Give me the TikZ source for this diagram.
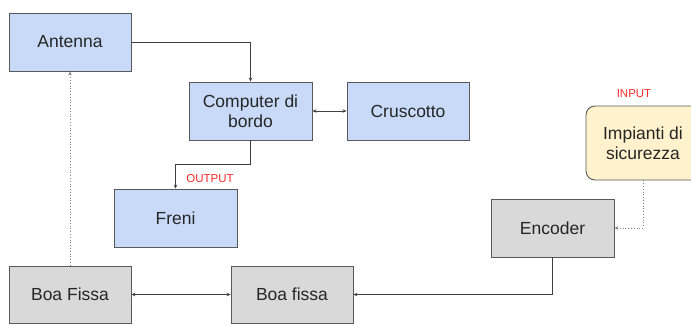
\documentclass[tikz,border=0pt]{standalone}
\usepackage{fontspec}
\setmainfont{Liberation Sans}
\usetikzlibrary{arrows.meta}
\definecolor{boxblue}{HTML}{C9DAF8}
\definecolor{boxgray}{HTML}{D9D9D9}
\definecolor{boxyellow}{HTML}{FFF2CC}
\definecolor{edgegray}{HTML}{595959}
\definecolor{wiregray}{HTML}{404040}
\definecolor{tagred}{HTML}{FF2A2A}
\tikzset{
  block/.style={draw=edgegray, line width=0.9pt, minimum width=122pt, minimum height=58pt,
    inner sep=2pt, align=center, font=\fontsize{17.5}{20}\selectfont, text=black!85},
  blue block/.style={block, fill=boxblue},
  gray block/.style={block, fill=boxgray},
  soft block/.style={block, fill=boxyellow, rounded corners=9pt, minimum width=114pt, minimum height=74pt},
  wire/.style={draw=wiregray, line width=0.8pt, -{Stealth[length=4pt,width=3.5pt]}},
  wire2/.style={wire, {Stealth[length=4pt,width=3.5pt]}-{Stealth[length=4pt,width=3.5pt]}},
  dotwire/.style={wire, draw=gray, dotted, line width=0.9pt},
  tag/.style={text=tagred, font=\fontsize{11.5}{12}\selectfont, inner sep=0pt}
}
\begin{document}
\begin{tikzpicture}[x=1pt, y=-1pt]
  \useasboundingbox (0,0) rectangle (691,325);
  \clip (0,0) rectangle (691,325);
  \fill[white] (0,0) rectangle (691,325);

  % blocks
  \node[blue block] (ant)  at (70,42)    {Antenna};
  \node[blue block, minimum width=123pt] (comp) at (250.5,111) {Computer di\\bordo};
  \node[blue block] (crus) at (408,111)  {Cruscotto};
  \node[blue block, minimum width=123pt] (fre) at (175.5,218) {Freni};
  \node[soft block] (imp)  at (643,143)  {Impianti di\\sicurezza};
  \node[gray block, minimum width=123pt] (enc) at (552.5,228) {Encoder};
  \node[gray block, minimum height=57pt] (boa1) at (70,294.5) {Boa Fissa};
  \node[gray block, minimum height=57pt] (boa2) at (292,294.5) {Boa fissa};

  % labels
  \node[tag] (out) at (210,179) {OUTPUT};
  \node[tag] (in)  at (634,94)  {INPUT};

  % connectors
  \draw[wire] (ant.east) -| (comp.north);
  \draw[wire2] (comp.east) -- (crus.west);
  \draw[wire] (comp.south) -- ++(0,24) -| (fre.north);
  \draw[dotwire] (imp.south) |- (enc.east);
  \draw[wire] (enc.south) |- (boa2.east);
  \draw[wire2] (boa1.east) -- (boa2.west);
  \draw[dotwire] (boa1.north) -- (ant.south);
\end{tikzpicture}
\end{document}
